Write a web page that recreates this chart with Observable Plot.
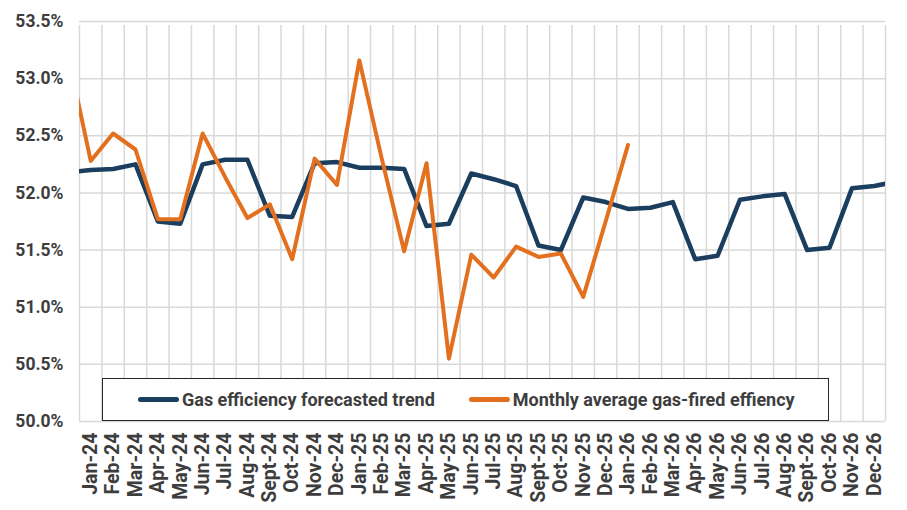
<!DOCTYPE html>
<html>
<head>
<meta charset="utf-8">
<script src="https://cdn.jsdelivr.net/npm/d3@7"></script>
<script src="https://cdn.jsdelivr.net/npm/@observablehq/plot@0.6"></script>
<style>
  html, body { margin: 0; padding: 0; background: #ffffff; }
  #chart { position: relative; width: 907px; height: 510px; font-family: Roboto, "Noto Sans", sans-serif; }
  #chart svg { display: block; }
  .legend {
    position: absolute; left: 102px; top: 378px; width: 727px; height: 43px;
    box-sizing: border-box; border: 1.5px solid #262626; background: #ffffff;
    display: flex; align-items: center; padding-left: 35px;
    font-size: 18px; font-weight: 700; color: #3d3d3d; white-space: nowrap;
  }
  .legend .item { display: flex; align-items: center; }
  .legend .item + .item { margin-left: 34px; }
  .legend .swatch { width: 41px; height: 5px; border-radius: 2.5px; margin-right: 3px; }
</style>
</head>
<body>
<div id="chart"></div>
<script>
// Month categories shown on the x axis
const months = [
  "Jan-24", "Feb-24", "Mar-24", "Apr-24", "May-24", "Jun-24", "Jul-24", "Aug-24", "Sept-24", "Oct-24", "Nov-24", "Dec-24",
  "Jan-25", "Feb-25", "Mar-25", "Apr-25", "May-25", "Jun-25", "Jul-25", "Aug-25", "Sept-25", "Oct-25", "Nov-25", "Dec-25",
  "Jan-26", "Feb-26", "Mar-26", "Apr-26", "May-26", "Jun-26", "Jul-26", "Aug-26", "Sept-26", "Oct-26", "Nov-26", "Dec-26"
];

// Gas efficiency forecasted trend (%), Jan-24 .. Dec-26
const trend = [
  52.20, 52.21, 52.25, 51.75, 51.73, 52.25, 52.29, 52.29, 51.80, 51.79, 52.26, 52.27,
  52.22, 52.22, 52.21, 51.71, 51.73, 52.17, 52.12, 52.06, 51.54, 51.50, 51.96, 51.92,
  51.86, 51.87, 51.92, 51.42, 51.45, 51.94, 51.97, 51.99, 51.50, 51.52, 52.04, 52.06
];

// Monthly average gas-fired efficiency (%), Jan-24 .. Jan-26
const monthly = [
  52.28, 52.52, 52.38, 51.77, 51.77, 52.52, 52.14, 51.78, 51.90, 51.42, 52.30, 52.07,
  53.16, 52.30, 51.49, 52.26, 50.55, 51.46, 51.26, 51.53, 51.44, 51.47, 51.09, 51.75,
  52.42
];

// Values just outside the plotted window (Dec-23 and Jan-27); the lines run to the frame edge
const trendBefore = 52.18, trendAfter = 52.10;
const monthlyBefore = 53.20;

// Y axis ticks (%)
const yTicks = [50.0, 50.5, 51.0, 51.5, 52.0, 52.5, 53.0, 53.5];

const trendData = [{i: -1, v: trendBefore}, ...trend.map((v, i) => ({i, v})), {i: trend.length, v: trendAfter}];
const monthlyData = [{i: -1, v: monthlyBefore}, ...monthly.map((v, i) => ({i, v}))];

const blue = "#1b3e5e";
const orange = "#e3701f";
const grid = "#d9d9d9";

const bandEdges = d3.range(months.length + 1).map(i => i - 0.5);

const chart = Plot.plot({
  width: 907,
  height: 510,
  marginLeft: 79,
  marginRight: 22,
  marginTop: 21,
  marginBottom: 89,
  style: {fontFamily: "Roboto, 'Noto Sans', sans-serif", fontSize: "17.5px", fontWeight: "700", color: "#3d3d3d", background: "#ffffff"},
  x: {type: "linear", domain: [-0.5, months.length - 0.5]},
  y: {domain: [50, 53.5]},
  marks: [
    Plot.gridY(yTicks, {stroke: grid, strokeOpacity: 1, strokeWidth: 1.5}),
    Plot.ruleX(bandEdges, {y1: 50, y2: 53.5, stroke: grid, strokeWidth: 1.5, insetBottom: -4}),
    Plot.axisY(yTicks, {tickSize: 0, tickPadding: 16, tickFormat: d => d.toFixed(1) + "%", label: null}),
    Plot.axisX(d3.range(months.length), {tickSize: 0, tickPadding: 11, tickRotate: -90, fontSize: 19.5, tickFormat: i => months[i], label: null}),
    Plot.line(trendData, {x: "i", y: "v", stroke: blue, strokeWidth: 4.5, clip: true}),
    Plot.line(monthlyData, {x: "i", y: "v", stroke: orange, strokeWidth: 4, clip: true})
  ]
});

const root = document.getElementById("chart");
root.appendChild(chart);

// Legend box sitting inside the plot area, above the bottom gridline
const legend = document.createElement("div");
legend.className = "legend";
[["Gas efficiency forecasted trend", blue], ["Monthly average gas-fired effiency", orange]].forEach(([name, color]) => {
  const item = document.createElement("div");
  item.className = "item";
  const sw = document.createElement("span");
  sw.className = "swatch";
  sw.style.background = color;
  const label = document.createElement("span");
  label.textContent = name;
  item.appendChild(sw);
  item.appendChild(label);
  legend.appendChild(item);
});
root.appendChild(legend);
</script>
</body>
</html>
